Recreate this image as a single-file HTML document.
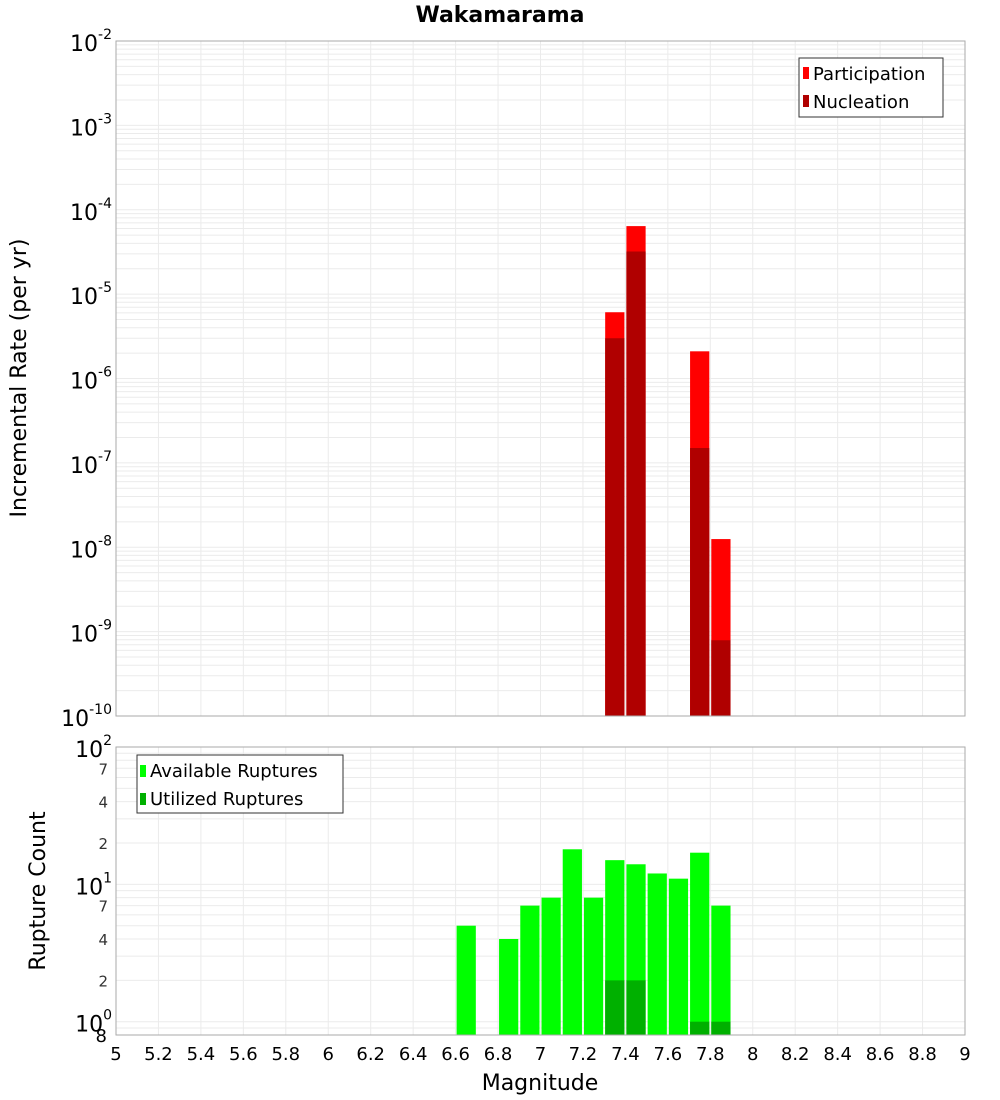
<!DOCTYPE html>
<html><head><meta charset="utf-8"><style>
body{margin:0;background:#fff;}
svg{display:block;font-family:"DejaVu Sans","Liberation Sans",sans-serif;}
</style></head><body>
<svg id="c" width="1000" height="1100"></svg>
<script>
const topMags=[7.35,7.45,7.75,7.85];
const partVals=[6.1e-6,6.4e-5,2.1e-6,1.25e-8];
const nuclVals=[3.0e-6,3.2e-5,1.5e-7,7.9e-10];
const botMags=[6.65,6.85,6.95,7.05,7.15,7.25,7.35,7.45,7.55,7.65,7.75,7.85];
const availVals=[5,4,7,8,18,8,15,14,12,11,17,7];
const utilMags=[7.35,7.45,7.75,7.85];
const utilVals=[2,2,1,1];
const xTicks=[5,5.2,5.4,5.6,5.8,6,6.2,6.4,6.6,6.8,7,7.2,7.4,7.6,7.8,8,8.2,8.4,8.6,8.8,9];
const topExps=[-2,-3,-4,-5,-6,-7,-8,-9,-10];

const NS="http://www.w3.org/2000/svg";
const svg=document.getElementById('c');
function el(t,a,p){const e=document.createElementNS(NS,t);for(const k in a)e.setAttribute(k,a[k]);(p||svg).appendChild(e);return e;}
const X0=116,X1=965;
const x=m=>X0+(m-5)/4*(X1-X0);
const T0=41,T1=716;
const yT=v=>T0+(-2-Math.log10(v))/8*(T1-T0);
const B0=747,B1=1035,bLo=Math.log10(0.8);
const yB=v=>B0+(2-Math.log10(v))/(2-bLo)*(B1-B0);

// title
let t=el('text',{x:500,y:22,'text-anchor':'middle','font-size':22,'font-weight':'bold'});
t.textContent='Wakamarama';

function grid(y0,y1,yf,lo,hi){
  const g=el('g',{stroke:'#ebebeb','stroke-width':1});
  for(const m of xTicks){el('line',{x1:x(m),x2:x(m),y1:y0,y2:y1},g);}
  for(let e=lo;e<hi;e++)for(let k=1;k<10;k++){const v=k*Math.pow(10,e);const yy=yf(v);if(yy>=y0&&yy<=y1)el('line',{x1:X0,x2:X1,y1:yy,y2:yy},g);}
  return g;
}
// top panel
const gt=grid(T0,T1,yT,-10,-1);
topMags.forEach((m,i)=>{
  let r=el('rect',{x:x(m-0.05)+1,y:yT(partVals[i]),width:x(m+0.05)-x(m-0.05)-2,height:T1-yT(partVals[i]),fill:'#ff0000'});
  
  r=el('rect',{x:x(m-0.05)+1,y:yT(nuclVals[i]),width:x(m+0.05)-x(m-0.05)-2,height:T1-yT(nuclVals[i]),fill:'#b00000'});
  
});
el('rect',{x:X0,y:T0,width:X1-X0,height:T1-T0,fill:'none',stroke:'#aaa'});
topExps.forEach(e=>{
  const yy=yT(Math.pow(10,e));
  const tt=el('text',{x:112,y:yy+10,'text-anchor':'end','font-size':22});
  
  tt.innerHTML='10<tspan dy="-12" font-size="14">'+e+'</tspan>';
});
t=el('text',{x:0,y:0,'font-size':22,'text-anchor':'middle',transform:'translate(26,378) rotate(-90)'});
t.textContent='Incremental Rate (per yr)';
// top legend
let lg=el('g',{});
el('rect',{x:799,y:58,width:144,height:59,fill:'#fff',stroke:'#333'},lg);
el('rect',{x:803,y:67,width:6,height:12,fill:'#ff0000'},lg);
el('rect',{x:803,y:95,width:6,height:12,fill:'#b00000'},lg);
t=el('text',{x:813,y:80,'font-size':18},lg);t.textContent='Participation';
t=el('text',{x:813,y:108,'font-size':18},lg);t.textContent='Nucleation';

// bottom panel
const gb=grid(B0,B1,yB,-1,2);
botMags.forEach((m,i)=>{
  const r=el('rect',{x:x(m-0.05)+1,y:yB(availVals[i]),width:x(m+0.05)-x(m-0.05)-2,height:B1-yB(availVals[i]),fill:'#00ff00'});
  
});
utilMags.forEach((m,i)=>{
  const r=el('rect',{x:x(m-0.05)+1,y:yB(utilVals[i]),width:x(m+0.05)-x(m-0.05)-2,height:B1-yB(utilVals[i]),fill:'#00b000'});
  
});
el('rect',{x:X0,y:B0,width:X1-X0,height:B1-B0,fill:'none',stroke:'#aaa'});
[[100,'10','2'],[10,'10','1'],[1,'10','0']].forEach(([v,b,e])=>{
  const tt=el('text',{x:112,y:yB(v)+10,'text-anchor':'end','font-size':22});
  
  tt.innerHTML=b+'<tspan dy="-12" font-size="14">'+e+'</tspan>';
});
[[70,'7'],[40,'4'],[20,'2'],[7,'7'],[4,'4'],[2,'2']].forEach(([v,s])=>{
  const tt=el('text',{x:108,y:yB(v)+6,'text-anchor':'end','font-size':15,fill:'#333'});
  tt.textContent=s;
});
t=el('text',{x:107,y:1042,'text-anchor':'end','font-size':18});t.textContent='8';
t=el('text',{x:0,y:0,'font-size':22,'text-anchor':'middle',transform:'translate(45,891) rotate(-90)'});
t.textContent='Rupture Count';
xTicks.forEach(m=>{
  const tt=el('text',{x:x(m),y:1060,'text-anchor':'middle','font-size':18});
  tt.textContent=String(m);
});
t=el('text',{x:540,y:1090,'text-anchor':'middle','font-size':22});
t.textContent='Magnitude';
lg=el('g',{});
el('rect',{x:137,y:755,width:206,height:58,fill:'#fff',stroke:'#333'},lg);
el('rect',{x:140,y:765,width:6,height:12,fill:'#00ff00'},lg);
el('rect',{x:140,y:793,width:6,height:12,fill:'#00b000'},lg);
t=el('text',{x:150,y:777,'font-size':18},lg);t.textContent='Available Ruptures';
t=el('text',{x:150,y:805,'font-size':18},lg);t.textContent='Utilized Ruptures';
</script>
</body></html>
